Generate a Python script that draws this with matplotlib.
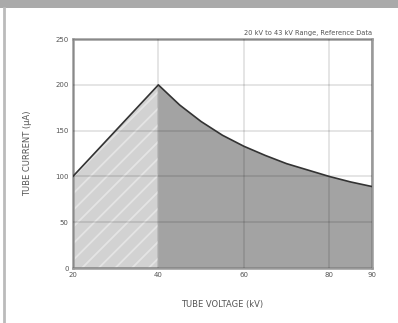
import matplotlib.pyplot as plt
from matplotlib.patches import Rectangle
from matplotlib.lines import Line2D

# tube current (uA) vs tube voltage (kV)
low_kv = [20, 25, 30, 35, 40]
low_ua = [100, 125, 150, 175, 200]
high_kv = [40, 45, 50, 55, 60, 65, 70, 75, 80, 85, 90]
high_ua = [200, 178, 160, 145, 133, 123, 114, 107, 100, 94, 89]

x_ticks = [20, 40, 60, 80, 90]
y_ticks = [0, 50, 100, 150, 200, 250]

NOTE = '20 kV to 43 kV Range, Reference Data'

plt.rcParams['font.family'] = 'DejaVu Sans'
plt.rcParams['hatch.linewidth'] = 1.3

fig = plt.figure(figsize=(3.98, 3.23), dpi=100)
fig.patch.set_facecolor('white')

# grey band on top and thin rule on the left
fig.add_artist(Rectangle((0, 0.975), 1, 0.025, transform=fig.transFigure,
                         facecolor='#aaaaaa', edgecolor='none'))
fig.add_artist(Line2D([0.011, 0.011], [0, 0.975], transform=fig.transFigure,
                      color='#bbbbbb', linewidth=2))

ax = fig.add_axes([0.183, 0.170, 0.752, 0.709])

ax.fill_between(low_kv, low_ua, 0, facecolor='#d2d2d2', edgecolor='#e4e4e4',
                hatch='//', linewidth=0, zorder=1)
ax.fill_between(high_kv, high_ua, 0, facecolor='#a3a3a3', linewidth=0, zorder=1)
ax.plot(low_kv + high_kv[1:], low_ua + high_ua[1:], color='#333333',
        linewidth=1.2, zorder=3)

ax.set_xlim(20, 90)
ax.set_ylim(0, 250)
ax.set_xticks(x_ticks)
ax.set_yticks(y_ticks)
ax.grid(True, color='#000000', alpha=0.12, linewidth=1.2, zorder=2)
ax.set_axisbelow(False)

for s in ax.spines.values():
    s.set_color('#999999')
    s.set_linewidth(1.8)

ax.tick_params(axis='both', length=0, labelsize=5, labelcolor='#555555', pad=3)

ax.set_xlabel('TUBE VOLTAGE (kV)', fontsize=6, color='#555555', labelpad=16)
ax.set_ylabel('TUBE CURRENT (µA)', fontsize=6, color='#555555', labelpad=17)

ax.text(1.0, 1.012, NOTE, transform=ax.transAxes, ha='right', va='bottom',
        fontsize=4.8, color='#555555')

fig.savefig('out.png', dpi=100)
